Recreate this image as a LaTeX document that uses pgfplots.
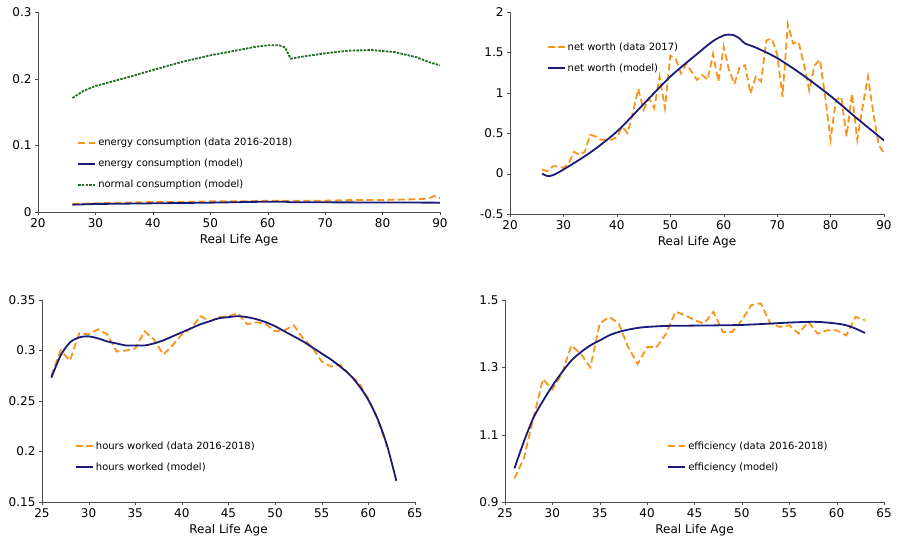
\documentclass[border=0pt]{standalone}
\usepackage{pgfplots}
\pgfplotsset{compat=1.18}
\usepackage{fontspec}
\setmainfont{DejaVu Sans}
\definecolor{org}{RGB}{247,148,30}
\definecolor{nav}{RGB}{26,26,122}
\definecolor{grn}{RGB}{30,110,30}
\pgfplotsset{
  myax/.style={scale only axis, axis lines=left, axis line style={-, black!70}, anchor=south west,
    tick align=outside, major tick length=3pt, tick style={black!70},
    ticklabel style={font=\fontsize{12}{14}\selectfont}, /pgf/number format/assume math mode=true,
    xlabel style={font=\fontsize{12}{14}\selectfont}, xlabel={Real Life Age},
    legend style={draw=none, fill=none, anchor=north west, font=\fontsize{10}{12}\selectfont, row sep=8pt},
    legend cell align=left},
}
\tikzset{mydat/.style={draw=org, line width=1.8pt, dash pattern=on 7pt off 3.5pt},
  mymod/.style={draw=nav, line width=1.8pt}}
\begin{document}
\begin{tikzpicture}
\path (0pt,0pt) rectangle (898pt,550pt);
% top-left
\begin{axis}[myax, at={(38pt,338pt)}, width=402pt, height=200pt, xmin=20, xmax=90, ymin=0, ymax=0.3,
  xtick={20,30,...,90}, ytick={0,0.1,0.2,0.3}, yticklabels={0,0.1,0.2,0.3},
  legend style={at={(0.09,0.39)}}]
\addplot[mydat] coordinates {(26,0.012)(30,0.013)(35,0.014)(40,0.015)(45,0.015)(50,0.016)(55,0.016)(60,0.017)(65,0.017)(70,0.017)(75,0.018)(80,0.018)(85,0.019)(88,0.020)(89,0.024)(90,0.021)};
\addlegendentry{energy consumption (data 2016-2018)}
\addplot[mymod] coordinates {(26,0.011)(30,0.012)(40,0.013)(50,0.014)(60,0.0155)(63,0.0155)(64,0.0145)(70,0.0145)(80,0.0143)(90,0.014)};
\addlegendentry{energy consumption (model)}
\addplot[draw=grn, line width=1.8pt, dash pattern=on 2.5pt off 1.2pt] coordinates {(26,0.171)(28,0.182)(30,0.189)(33,0.196)(36,0.203)(40,0.213)(45,0.225)(50,0.235)(55,0.243)(58,0.248)(60,0.250)(62,0.250)(63,0.247)(64,0.230)(66,0.233)(70,0.238)(74,0.242)(78,0.243)(82,0.240)(86,0.232)(88,0.225)(90,0.220)};
\addlegendentry{normal consumption (model)}
\end{axis}
% top-right
\begin{axis}[myax, at={(510pt,336pt)}, width=374pt, height=202pt, xmin=20, xmax=90, ymin=-0.5, ymax=2,
  xtick={20,30,...,90}, ytick={-0.5,0,0.5,1,1.5,2}, yticklabels={-0.5,0,0.5,1,1.5,2},
  legend style={at={(0.09,0.87)}}]
\addplot[mydat] coordinates {(26,0.05)(27,0.03)(28,0.09)(29,0.09)(30,0.07)(31,0.13)(32,0.27)(33,0.23)(34,0.27)(35,0.48)(36,0.46)(37,0.42)(38,0.42)(39,0.42)(40,0.45)(41,0.58)(42,0.5)(43,0.75)(44,1.05)(45,0.79)(46,0.93)(47,0.81)(48,1.2)(49,0.81)(50,1.46)(51,1.42)(52,1.24)(53,1.36)(54,1.26)(55,1.16)(56,1.22)(57,1.16)(58,1.48)(59,1.14)(60,1.57)(61,1.28)(62,1.11)(63,1.32)(64,1.34)(65,0.99)(66,1.2)(67,1.14)(68,1.65)(69,1.67)(70,1.48)(71,0.95)(72,1.85)(73,1.61)(74,1.63)(75,1.36)(76,1.03)(77,1.34)(78,1.41)(79,0.95)(80,0.42)(81,0.91)(82,0.95)(83,0.46)(84,0.99)(85,0.42)(86,0.83)(87,1.2)(88,0.75)(89,0.36)(90,0.25)};
\addlegendentry{net worth (data 2017)}
\addplot[mymod, smooth] coordinates {(26,0)(27,-0.03)(28,-0.02)(30,0.05)(35,0.26)(40,0.52)(45,0.86)(50,1.2)(55,1.48)(58,1.64)(60,1.71)(61,1.72)(62,1.71)(63,1.67)(64,1.61)(66,1.56)(70,1.43)(75,1.21)(80,0.96)(85,0.68)(90,0.41)};
\addlegendentry{net worth (model)}
\end{axis}
% bottom-left
\begin{axis}[myax, at={(42pt,48pt)}, width=373pt, height=202pt, xmin=25, xmax=65, ymin=0.15, ymax=0.35,
  xtick={25,30,...,65}, ytick={0.15,0.2,0.25,0.3,0.35}, yticklabels={0.15,0.2,0.25,0.3,0.35},
  legend style={at={(0.08,0.32)}}]
\addplot[mydat] coordinates {(26,0.275)(27,0.30)(28,0.29)(29,0.317)(30,0.316)(31,0.321)(32,0.316)(33,0.299)(34,0.300)(35,0.302)(36,0.319)(37,0.311)(38,0.296)(39,0.305)(40,0.316)(41,0.322)(42,0.334)(43,0.329)(44,0.333)(45,0.334)(46,0.337)(47,0.326)(48,0.328)(49,0.326)(50,0.319)(51,0.320)(52,0.325)(53,0.312)(54,0.303)(55,0.289)(56,0.284)(57,0.286)(58,0.276)(59,0.268)(60,0.252)(61,0.232)(62,0.205)};
\addlegendentry{hours worked (data 2016-2018)}
\addplot[mymod, smooth] coordinates {(26,0.273)(27,0.295)(28,0.308)(29,0.313)(30,0.314)(31,0.312)(32,0.309)(33,0.307)(34,0.305)(35,0.305)(36,0.305)(37,0.307)(38,0.310)(39,0.314)(40,0.318)(41,0.322)(42,0.326)(43,0.329)(44,0.332)(45,0.333)(46,0.334)(47,0.333)(48,0.331)(49,0.328)(50,0.324)(51,0.319)(52,0.314)(53,0.309)(54,0.303)(55,0.297)(56,0.291)(57,0.284)(58,0.276)(59,0.265)(60,0.251)(61,0.232)(62,0.206)(63,0.171)};
\addlegendentry{hours worked (model)}
\end{axis}
% bottom-right
\begin{axis}[myax, at={(505pt,48pt)}, width=379pt, height=202pt, xmin=25, xmax=65, ymin=0.9, ymax=1.5,
  xtick={25,30,...,65}, ytick={0.9,1.1,1.3,1.5}, yticklabels={0.9,1.1,1.3,1.5},
  legend style={at={(0.42,0.32)}}]
\addplot[mydat] coordinates {(26,0.97)(27,1.03)(28,1.15)(29,1.265)(30,1.235)(31,1.28)(32,1.365)(33,1.34)(34,1.30)(35,1.43)(36,1.45)(37,1.43)(38,1.36)(39,1.31)(40,1.36)(41,1.36)(42,1.40)(43,1.465)(44,1.455)(45,1.44)(46,1.43)(47,1.465)(48,1.405)(49,1.405)(50,1.44)(51,1.485)(52,1.49)(53,1.43)(54,1.42)(55,1.425)(56,1.40)(57,1.435)(58,1.40)(59,1.41)(60,1.41)(61,1.395)(62,1.45)(63,1.44)};
\addlegendentry{efficiency (data 2016-2018)}
\addplot[mymod, smooth] coordinates {(26,1.0)(27,1.08)(28,1.15)(29,1.20)(30,1.245)(31,1.285)(32,1.32)(33,1.345)(34,1.365)(35,1.38)(36,1.395)(37,1.405)(38,1.412)(39,1.417)(40,1.42)(42,1.423)(45,1.424)(50,1.426)(55,1.433)(57,1.435)(58,1.435)(59,1.433)(60,1.43)(61,1.425)(62,1.415)(63,1.402)};
\addlegendentry{efficiency (model)}
\end{axis}
\end{tikzpicture}
\end{document}
